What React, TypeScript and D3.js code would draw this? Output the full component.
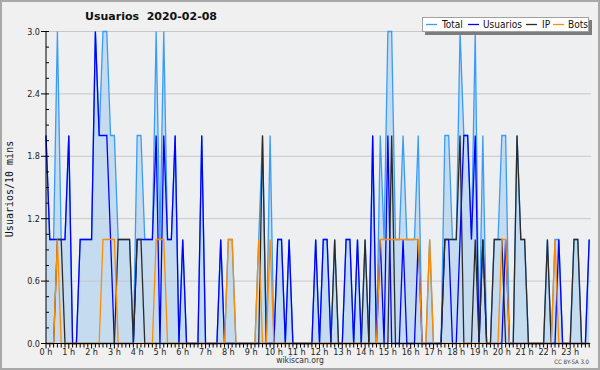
import { useEffect, useRef } from 'react';
import * as d3 from 'd3';

// 10-minute slots over the day (144 per series)
const hourLabels = [
  '0 h', '1 h', '2 h', '3 h', '4 h', '5 h', '6 h', '7 h', '8 h', '9 h', '10 h', '11 h',
  '12 h', '13 h', '14 h', '15 h', '16 h', '17 h', '18 h', '19 h', '20 h', '21 h', '22 h', '23 h',
];
const yTicks = [0, 0.6, 1.2, 1.8, 2.4, 3.0];

const total = [
  2, 1, 1, 3, 1, 1, 2, 0, 0, 1,
  1, 1, 1, 3, 2, 3, 3, 2, 2, 1,
  1, 1, 1, 0, 2, 2, 1, 1, 1, 3,
  1, 3, 1, 1, 2, 0, 1, 0, 0, 0,
  0, 2, 0, 0, 0, 0, 1, 0, 1, 1,
  0, 0, 0, 0, 0, 0, 1, 2, 0, 2,
  0, 1, 1, 0, 1, 0, 0, 0, 0, 0,
  0, 1, 0, 1, 1, 0, 1, 0, 0, 1,
  1, 0, 1, 0, 1, 0, 2, 0, 2, 1,
  3, 3, 1, 1, 2, 1, 1, 1, 2, 0,
  0, 1, 0, 0, 0, 2, 2, 1, 1, 3,
  2, 2, 1, 3, 0, 2, 0, 0, 1, 1,
  2, 2, 0, 0, 2, 1, 1, 0, 0, 0,
  0, 0, 1, 0, 1, 1, 0, 0, 0, 1,
  1, 0, 0, 1,
];
const usuarios = [
  2, 1, 1, 1, 1, 1, 2, 0, 0, 1,
  1, 1, 1, 3, 2, 2, 2, 1, 0, 0,
  0, 0, 0, 0, 1, 1, 1, 1, 1, 2,
  0, 2, 1, 1, 2, 0, 1, 0, 0, 0,
  0, 2, 0, 0, 0, 0, 1, 0, 0, 0,
  0, 0, 0, 0, 0, 0, 0, 0, 0, 0,
  0, 1, 1, 0, 1, 0, 0, 0, 0, 0,
  0, 1, 0, 1, 1, 0, 0, 0, 0, 1,
  1, 0, 1, 0, 0, 0, 2, 0, 1, 0,
  2, 0, 0, 0, 1, 0, 0, 0, 1, 0,
  0, 0, 0, 0, 0, 1, 1, 0, 0, 1,
  2, 2, 1, 2, 0, 1, 0, 0, 0, 0,
  0, 1, 0, 0, 0, 0, 0, 0, 0, 0,
  0, 0, 0, 0, 0, 1, 0, 0, 0, 0,
  0, 0, 0, 1,
];
const ip = [
  0, 0, 0, 1, 1, 0, 0, 0, 0, 0,
  0, 0, 0, 0, 0, 0, 0, 0, 0, 1,
  1, 1, 1, 0, 1, 1, 0, 0, 0, 0,
  0, 0, 0, 0, 0, 0, 0, 0, 0, 0,
  0, 0, 0, 0, 0, 0, 0, 0, 0, 0,
  0, 0, 0, 0, 0, 0, 0, 2, 0, 0,
  0, 0, 0, 0, 0, 0, 0, 0, 0, 0,
  0, 0, 0, 0, 0, 0, 1, 0, 0, 0,
  0, 0, 0, 0, 1, 0, 0, 0, 0, 0,
  0, 2, 0, 0, 0, 0, 0, 0, 0, 0,
  0, 0, 0, 0, 0, 1, 1, 1, 1, 2,
  0, 0, 0, 1, 0, 1, 0, 0, 1, 1,
  1, 0, 0, 0, 2, 1, 1, 0, 0, 0,
  0, 0, 1, 0, 0, 0, 0, 0, 0, 1,
  1, 0, 0, 0,
];
const bots = [
  0, 0, 0, 1, 0, 0, 0, 0, 0, 0,
  0, 0, 0, 0, 0, 1, 1, 1, 1, 0,
  0, 0, 0, 0, 0, 0, 0, 0, 0, 1,
  1, 1, 0, 0, 0, 0, 0, 0, 0, 0,
  0, 0, 0, 0, 0, 0, 0, 0, 1, 1,
  0, 0, 0, 0, 0, 0, 1, 0, 0, 1,
  0, 0, 0, 0, 0, 0, 0, 0, 0, 0,
  0, 0, 0, 0, 0, 0, 0, 0, 0, 0,
  0, 0, 0, 0, 0, 0, 0, 0, 1, 1,
  1, 1, 1, 1, 1, 1, 1, 1, 1, 0,
  0, 1, 0, 0, 0, 0, 0, 0, 0, 0,
  0, 0, 0, 0, 0, 0, 0, 0, 0, 0,
  1, 1, 0, 0, 0, 0, 0, 0, 0, 0,
  0, 0, 0, 0, 1, 0, 0, 0, 0, 0,
  0, 0, 0, 0,
];

const series = [
  { key: 'Total', values: total, color: '#3a9cf6' },
  { key: 'Usuarios', values: usuarios, color: '#0000ff' },
  { key: 'IP', values: ip, color: '#2b2b2b' },
  { key: 'Bots', values: bots, color: '#ff8c00' },
];

const sansFont = "'DejaVu Sans', sans-serif";

export default function App() {
  const svgRef = useRef<SVGSVGElement>(null);

  useEffect(() => {
    if (!svgRef.current) return;
    document.body.style.margin = '0';
    const width = 600;
    const height = 370;
    const left = 46;
    const top = 31.5;
    const bottom = 343.5;
    const right = 593;

    const svg = d3.select(svgRef.current);
    svg.selectAll('*').remove();
    svg.attr('width', width).attr('height', height);

    svg.append('rect')
      .attr('x', 1).attr('y', 1).attr('width', width - 2).attr('height', height - 2)
      .attr('fill', '#f0f0f0').attr('stroke', '#a8a8a8').attr('stroke-width', 2);

    const x = d3.scaleLinear().domain([0, 144]).range([left, right]);
    const y = d3.scaleLinear().domain([0, 3]).range([bottom, top]);
    const lastX = x(total.length - 1);

    svg.append('rect')
      .attr('x', left).attr('y', top).attr('width', lastX - left + 2).attr('height', bottom - top)
      .attr('fill', '#eeeff1');

    // area under total
    const area = d3.area<number>()
      .x((_, i) => x(i))
      .y0(y(0))
      .y1((d) => y(d));
    svg.append('path').attr('d', area(total) || '').attr('fill', '#c5dcf0');

    // grid
    svg.append('g').selectAll('line').data(yTicks.slice(1)).enter().append('line')
      .attr('x1', left).attr('x2', lastX + 2)
      .attr('y1', (d) => y(d)).attr('y2', (d) => y(d))
      .attr('stroke', '#c8c8c8').attr('stroke-width', 1);

    const line = d3.line<number>().x((_, i) => x(i)).y((d) => y(d));
    series.forEach((s) => {
      svg.append('path')
        .attr('d', line(s.values) || '')
        .attr('fill', 'none')
        .attr('stroke', s.color)
        .attr('stroke-width', 1.3)
        .attr('stroke-linejoin', 'miter');
    });

    // y axis
    const yAxis = svg.append('g').attr('transform', `translate(${left},0)`);
    yAxis.append('line').attr('y1', top).attr('y2', bottom).attr('stroke', '#000');
    yAxis.selectAll('.major').data(yTicks).enter().append('line')
      .attr('x1', -5).attr('x2', 0).attr('y1', (d) => y(d)).attr('y2', (d) => y(d))
      .attr('stroke', '#000');
    yAxis.selectAll('.minor').data(d3.range(0, 3.01, 0.15)).enter().append('line')
      .attr('x1', 0).attr('x2', 3).attr('y1', (d) => y(d)).attr('y2', (d) => y(d))
      .attr('stroke', '#000');
    yAxis.selectAll('text').data(yTicks).enter().append('text')
      .attr('x', -6).attr('y', (d) => y(d) + 3)
      .attr('text-anchor', 'end')
      .attr('font-family', sansFont).style('font-stretch', 'condensed')
      .attr('font-size', 9).attr('fill', '#222')
      .text((d) => d.toFixed(1));

    // x axis
    const xAxis = svg.append('g').attr('transform', `translate(0,${bottom})`);
    xAxis.append('line').attr('x1', left).attr('x2', lastX + 1).attr('stroke', '#000');
    xAxis.selectAll('.tick').data(d3.range(total.length)).enter().append('line')
      .attr('x1', (d) => x(d)).attr('x2', (d) => x(d))
      .attr('y1', 0).attr('y2', (d) => (d % 6 === 0 ? 5 : 4))
      .attr('stroke', '#000');
    xAxis.selectAll('text').data(hourLabels).enter().append('text')
      .attr('x', (_, i) => x(i * 6)).attr('y', 11)
      .attr('text-anchor', 'middle')
      .attr('font-family', sansFont).style('font-stretch', 'condensed')
      .attr('font-size', 9).attr('fill', '#222')
      .text((d) => d);

    // y title
    svg.append('text')
      .attr('transform', 'translate(13,189) rotate(-90)')
      .attr('text-anchor', 'middle')
      .attr('font-family', "'DejaVu Sans Mono', monospace")
      .attr('font-size', 10).attr('fill', '#111')
      .text('Usuarios/10 mins');

    // title
    svg.append('text')
      .attr('x', 151).attr('y', 20)
      .attr('text-anchor', 'middle')
      .attr('font-family', sansFont).attr('font-weight', 'bold')
      .attr('font-size', 11).attr('fill', '#111')
      .attr('xml:space', 'preserve')
      .style('white-space', 'pre')
      .text('Usuarios  2020-02-08');

    // legend
    const legend = svg.append('g');
    legend.append('rect').attr('x', 425).attr('y', 20).attr('width', 167).attr('height', 15).attr('fill', '#7c7c7c');
    legend.append('rect').attr('x', 422.5).attr('y', 17.5).attr('width', 166).attr('height', 14)
      .attr('fill', '#fff').attr('stroke', '#a0a0a0');
    const legendPos = [
      { lx: 426, tx: 442 },
      { lx: 468, tx: 483 },
      { lx: 526, tx: 542 },
      { lx: 553, tx: 568 },
    ];
    series.forEach((s, i) => {
      const p = legendPos[i];
      legend.append('line')
        .attr('x1', p.lx).attr('x2', p.lx + 11).attr('y1', 24.5).attr('y2', 24.5)
        .attr('stroke', s.color).attr('stroke-width', 1.3);
      legend.append('text')
        .attr('x', p.tx).attr('y', 28)
        .attr('font-family', sansFont).style('font-stretch', 'condensed')
        .attr('font-size', 10).attr('fill', '#111')
        .text(s.key);
    });

    // footer
    svg.append('text')
      .attr('x', 300).attr('y', 363)
      .attr('text-anchor', 'middle')
      .attr('font-family', sansFont).style('font-stretch', 'condensed')
      .attr('font-size', 8.5).attr('fill', '#333')
      .text('wikiscan.org');
    svg.append('text')
      .attr('x', 589).attr('y', 364)
      .attr('text-anchor', 'end')
      .attr('font-family', sansFont).style('font-stretch', 'condensed')
      .attr('font-size', 6).attr('fill', '#444')
      .text('CC BY-SA 3.0');
  }, []);

  return <svg ref={svgRef} style={{ display: 'block' }} />;
}
